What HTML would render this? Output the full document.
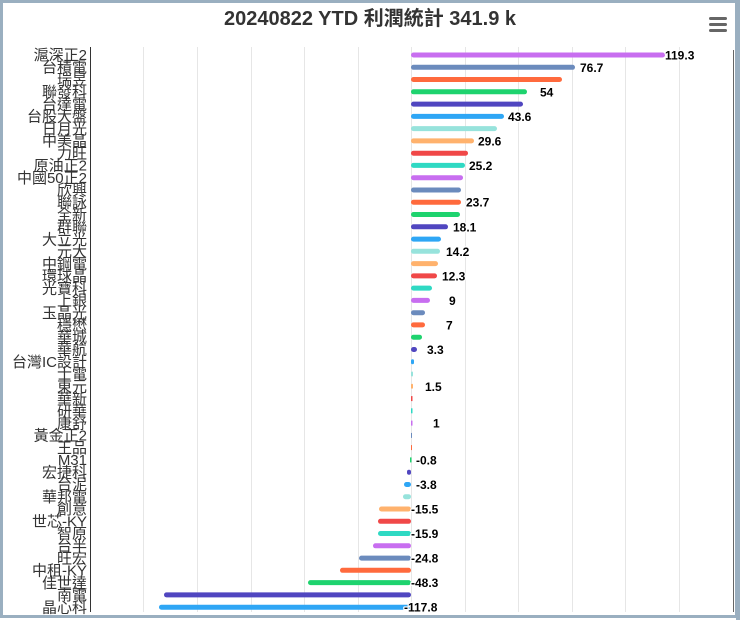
<!DOCTYPE html>
<html><head><meta charset="utf-8"><style>
html,body{margin:0;padding:0;background:#fff;}
svg{display:block;}
.c{font-family:"Liberation Sans","Noto Sans CJK TC",sans-serif;font-size:15px;fill:#333;text-anchor:end;}
.v{font-family:"Liberation Sans",sans-serif;font-size:12px;font-weight:bold;fill:#000;stroke:#fff;stroke-width:2.5px;paint-order:stroke;stroke-linejoin:round;}
</style></head><body>
<svg width="740" height="620" viewBox="0 0 740 620" xmlns="http://www.w3.org/2000/svg">
<rect x="0" y="0" width="740" height="620" fill="#fff"/>
<rect x="1.5" y="1.5" width="735" height="615" fill="none" stroke="#9aafc0" stroke-width="3"/>
<rect x="736" y="0" width="4" height="620" fill="#9aafc0"/>
<text x="370" y="25" text-anchor="middle" style="font-family:'Liberation Sans','Noto Sans CJK TC',sans-serif;font-size:20px;font-weight:bold;fill:#333">20240822 YTD 利潤統計 341.9 k</text>
<g fill="#666"><rect x="709" y="17" width="18" height="3" rx="1.5"/><rect x="709" y="23" width="18" height="3" rx="1.5"/><rect x="709" y="29" width="18" height="3" rx="1.5"/></g>
<g stroke="#e6e6e6" stroke-width="1">
<line x1="143.5" y1="47" x2="143.5" y2="612"/><line x1="197.5" y1="47" x2="197.5" y2="612"/><line x1="251.5" y1="47" x2="251.5" y2="612"/><line x1="304.5" y1="47" x2="304.5" y2="612"/><line x1="358.5" y1="47" x2="358.5" y2="612"/><line x1="411.5" y1="47" x2="411.5" y2="612"/><line x1="465.5" y1="47" x2="465.5" y2="612"/><line x1="518.5" y1="47" x2="518.5" y2="612"/><line x1="572.5" y1="47" x2="572.5" y2="612"/><line x1="625.5" y1="47" x2="625.5" y2="612"/><line x1="679.5" y1="47" x2="679.5" y2="612"/>
</g>
<line x1="90.5" y1="47" x2="90.5" y2="612" stroke="#333" stroke-width="1"/>
<line x1="733.5" y1="50" x2="733.5" y2="612" stroke="#666" stroke-width="1"/>
<g class="c">
<text x="87" y="60.2">滬深正2</text><text x="87" y="72.5">台積電</text><text x="87" y="84.7">瑞昱</text><text x="87" y="97">聯發科</text><text x="87" y="109.3">台達電</text><text x="87" y="121.6">台股大盤</text><text x="87" y="133.8">日月光</text><text x="87" y="146.1">中美晶</text><text x="87" y="158.4">力旺</text><text x="87" y="170.6">原油正2</text><text x="87" y="182.9">中國50正2</text><text x="87" y="195.2">欣興</text><text x="87" y="207.4">聯詠</text><text x="87" y="219.7">全新</text><text x="87" y="232">群聯</text><text x="87" y="244.3">大立光</text><text x="87" y="256.5">元大</text><text x="87" y="268.8">中鋼電</text><text x="87" y="281.1">環球晶</text><text x="87" y="293.3">光寶科</text><text x="87" y="305.6">上銀</text><text x="87" y="317.9">玉晶光</text><text x="87" y="330.1">穩懋</text><text x="87" y="342.4">華城</text><text x="87" y="354.7">華航</text><text x="87" y="367">台灣IC設計</text><text x="87" y="379.2">士電</text><text x="87" y="391.5">東元</text><text x="87" y="403.8">華新</text><text x="87" y="416">研華</text><text x="87" y="428.3">康舒</text><text x="87" y="440.6">黃金正2</text><text x="87" y="452.8">王品</text><text x="87" y="465.1">M31</text><text x="87" y="477.4">宏捷科</text><text x="87" y="489.7">台泥</text><text x="87" y="501.9">華邦電</text><text x="87" y="514.2">創意</text><text x="87" y="526.5">世芯-KY</text><text x="87" y="538.7">智原</text><text x="87" y="551">台半</text><text x="87" y="563.3">旺宏</text><text x="87" y="575.5">中租-KY</text><text x="87" y="587.8">佳世達</text><text x="87" y="600.1">南電</text><text x="87" y="612.4">晶心科</text>
</g>
<g>
<rect x="411" y="52.5" width="254" height="5" rx="2.5" fill="#c86ef0"/>
<rect x="411" y="64.8" width="164" height="5" rx="2.5" fill="#6b8bbd"/>
<rect x="411" y="77" width="151" height="5" rx="2.5" fill="#ff6a3d"/>
<rect x="411" y="89.3" width="116" height="5" rx="2.5" fill="#1ed36e"/>
<rect x="411" y="101.6" width="112" height="5" rx="2.5" fill="#5046c0"/>
<rect x="411" y="113.9" width="93" height="5" rx="2.5" fill="#2ea6f5"/>
<rect x="411" y="126.1" width="86" height="5" rx="2.5" fill="#97e3dc"/>
<rect x="411" y="138.4" width="63" height="5" rx="2.5" fill="#ffb26d"/>
<rect x="411" y="150.7" width="57" height="5" rx="2.5" fill="#f04848"/>
<rect x="411" y="162.9" width="54" height="5" rx="2.5" fill="#2fd9c3"/>
<rect x="411" y="175.2" width="52" height="5" rx="2.5" fill="#c86ef0"/>
<rect x="411" y="187.5" width="50" height="5" rx="2.5" fill="#6b8bbd"/>
<rect x="411" y="199.7" width="50" height="5" rx="2.5" fill="#ff6a3d"/>
<rect x="411" y="212" width="49" height="5" rx="2.5" fill="#1ed36e"/>
<rect x="411" y="224.3" width="37" height="5" rx="2.5" fill="#5046c0"/>
<rect x="411" y="236.6" width="30" height="5" rx="2.5" fill="#2ea6f5"/>
<rect x="411" y="248.8" width="29" height="5" rx="2.5" fill="#97e3dc"/>
<rect x="411" y="261.1" width="27" height="5" rx="2.5" fill="#ffb26d"/>
<rect x="411" y="273.4" width="26" height="5" rx="2.5" fill="#f04848"/>
<rect x="411" y="285.6" width="21" height="5" rx="2.5" fill="#2fd9c3"/>
<rect x="411" y="297.9" width="19" height="5" rx="2.5" fill="#c86ef0"/>
<rect x="411" y="310.2" width="14" height="5" rx="2.5" fill="#6b8bbd"/>
<rect x="411" y="322.4" width="14" height="5" rx="2.5" fill="#ff6a3d"/>
<rect x="411" y="334.7" width="11" height="5" rx="2.5" fill="#1ed36e"/>
<rect x="411" y="347" width="6" height="5" rx="2.5" fill="#5046c0"/>
<rect x="411" y="359.3" width="3" height="5" rx="1.5" fill="#2ea6f5"/>
<rect x="411" y="371.5" width="2" height="5" rx="1" fill="#97e3dc"/>
<rect x="411" y="383.8" width="2" height="5" rx="1" fill="#ffb26d"/>
<rect x="411" y="396.1" width="1.5" height="5" fill="#f04848"/>
<rect x="411" y="408.3" width="1.5" height="5" fill="#2fd9c3"/>
<rect x="411" y="420.6" width="1.5" height="5" fill="#c86ef0"/>
<rect x="411" y="432.9" width="1" height="5" fill="#6b8bbd"/>
<rect x="411" y="445.1" width="1" height="5" fill="#ff6a3d"/>
<rect x="410" y="457.4" width="1.5" height="5" fill="#1ed36e"/>
<rect x="407" y="469.7" width="4" height="5" rx="2" fill="#5046c0"/>
<rect x="404" y="482" width="7" height="5" rx="2.5" fill="#2ea6f5"/>
<rect x="403" y="494.2" width="8" height="5" rx="2.5" fill="#97e3dc"/>
<rect x="379" y="506.5" width="32" height="5" rx="2.5" fill="#ffb26d"/>
<rect x="378" y="518.8" width="33" height="5" rx="2.5" fill="#f04848"/>
<rect x="378" y="531" width="33" height="5" rx="2.5" fill="#2fd9c3"/>
<rect x="373" y="543.3" width="38" height="5" rx="2.5" fill="#c86ef0"/>
<rect x="359" y="555.6" width="52" height="5" rx="2.5" fill="#6b8bbd"/>
<rect x="340" y="567.8" width="71" height="5" rx="2.5" fill="#ff6a3d"/>
<rect x="308" y="580.1" width="103" height="5" rx="2.5" fill="#1ed36e"/>
<rect x="164" y="592.4" width="247" height="5" rx="2.5" fill="#5046c0"/>
<rect x="159" y="604.7" width="252" height="5" rx="2.5" fill="#2ea6f5"/>
</g>
<g class="v">
<text x="665" y="59.5">119.3</text>
<text x="580" y="71.8">76.7</text>
<text x="540" y="96.3">54</text>
<text x="508" y="120.9">43.6</text>
<text x="478" y="145.4">29.6</text>
<text x="469" y="169.9">25.2</text>
<text x="466" y="206.7">23.7</text>
<text x="453" y="231.3">18.1</text>
<text x="446" y="255.8">14.2</text>
<text x="442" y="280.4">12.3</text>
<text x="449" y="304.9">9</text>
<text x="446" y="329.4">7</text>
<text x="427" y="354">3.3</text>
<text x="425" y="390.8">1.5</text>
<text x="433" y="427.6">1</text>
<text x="416" y="464.4">-0.8</text>
<text x="416" y="489">-3.8</text>
<text x="411" y="513.5">-15.5</text>
<text x="411" y="538">-15.9</text>
<text x="411" y="562.6">-24.8</text>
<text x="411" y="587.1">-48.3</text>
<text x="404" y="611.7">-117.8</text>
</g>
</svg>
</body></html>
